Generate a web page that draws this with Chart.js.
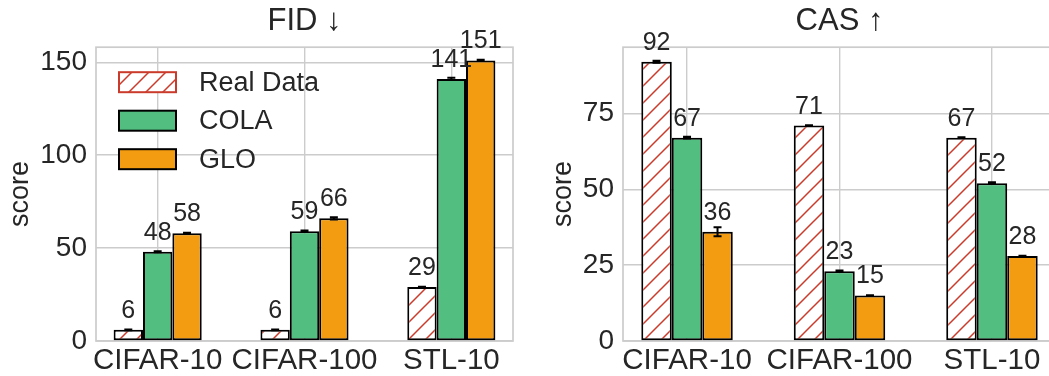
<!DOCTYPE html>
<html>
<head>
<meta charset="utf-8">
<script src="https://cdn.jsdelivr.net/npm/chart.js@4/dist/chart.umd.min.js"></script>
<style>
  html, body { margin: 0; padding: 0; background: #fff; }
  #wrap { position: relative; width: 1049px; height: 376px; overflow: hidden; }
  #c1 { position: absolute; left: 0; top: 0; }
  #c2 { position: absolute; left: 525px; top: 0; }
</style>
</head>
<body>
<div id="wrap">
  <canvas id="c1" width="525" height="376"></canvas>
  <canvas id="c2" width="545" height="376"></canvas>
</div>
<script>
// ---- data ----
const categories = ['CIFAR-10', 'CIFAR-100', 'STL-10'];
const seriesNames = ['Real Data', 'COLA', 'GLO'];

const fidReal = [6, 6, 29];
const fidCola = [48, 59, 141];
const fidGlo  = [58, 66, 151];
const fidRealErr = [0.2, 0.2, 0.2];
const fidColaErr = [0.3, 0.4, 0.6];
const fidGloErr  = [0.3, 0.6, 0.3];

const casReal = [92, 71, 67];
const casCola = [67, 23, 52];
const casGlo  = [36, 15, 28];
const casRealErr = [0.3, 0.1, 0.1];
const casColaErr = [0.3, 0.2, 0.3];
const casGloErr  = [1.5, 0.1, 0.1];

const fidTicks = [0, 50, 100, 150];
const casTicks = [0, 25, 50, 75];

// ---- styling ----
const FONT = "'Liberation Sans', Arial, sans-serif";
const TEXT = '#262626';
const GRID = '#cccccc';
const GREEN = '#52be80';
const ORANGE = '#f39c12';
const RED = '#cb3b2c';

function hatchPattern() {
  const s = 17;
  const c = document.createElement('canvas');
  c.width = s; c.height = s;
  const g = c.getContext('2d');
  g.fillStyle = '#ffffff';
  g.fillRect(0, 0, s, s);
  g.strokeStyle = RED;
  g.lineWidth = 1.5;
  g.beginPath();
  g.moveTo(-2, s + 2); g.lineTo(s + 2, -2);
  g.moveTo(-2, 2); g.lineTo(2, -2);
  g.moveTo(s - 2, s + 2); g.lineTo(s + 2, s - 2);
  g.stroke();
  return g.createPattern(c, 'repeat');
}
const HATCH = hatchPattern();

const toPoints = (arr) => arr.map((v, i) => ({ x: i, y: v }));

function makeDatasets(real, cola, glo, errs) {
  return [
    { label: seriesNames[0], data: toPoints(real), errors: errs[0], backgroundColor: HATCH,
      borderColor: '#000', legendBorder: RED, borderWidth: 2, borderSkipped: false },
    { label: seriesNames[1], data: toPoints(cola), errors: errs[1], backgroundColor: GREEN,
      borderColor: '#000', borderWidth: 2, borderSkipped: false },
    { label: seriesNames[2], data: toPoints(glo), errors: errs[2], backgroundColor: ORANGE,
      borderColor: '#000', borderWidth: 2, borderSkipped: false },
  ];
}

const framePlugin = {
  id: 'frame',
  beforeDatasetsDraw(chart) {
    const { ctx, chartArea: a } = chart;
    ctx.save();
    ctx.strokeStyle = GRID;
    ctx.lineWidth = 1.7;
    ctx.strokeRect(a.left, a.top, a.right - a.left, a.bottom - a.top);
    ctx.restore();
  }
};

const annotatePlugin = {
  id: 'annotate',
  afterDatasetsDraw(chart) {
    const { ctx } = chart;
    const ys = chart.scales.y;
    ctx.save();
    chart.data.datasets.forEach((ds, di) => {
      const meta = chart.getDatasetMeta(di);
      meta.data.forEach((bar, i) => {
        const v = ds.data[i].y;
        const e = ds.errors[i];
        const x = bar.x;
        const y1 = ys.getPixelForValue(v - e);
        const y2 = ys.getPixelForValue(v + e);
        ctx.strokeStyle = '#000';
        ctx.lineWidth = 2;
        ctx.beginPath();
        ctx.moveTo(x, y1); ctx.lineTo(x, y2);
        ctx.moveTo(x - 4, y1); ctx.lineTo(x + 4, y1);
        ctx.moveTo(x - 4, y2); ctx.lineTo(x + 4, y2);
        ctx.stroke();
        ctx.fillStyle = TEXT;
        ctx.font = `25px ${FONT}`;
        ctx.textAlign = 'center';
        ctx.textBaseline = 'alphabetic';
        ctx.fillText(String(Math.round(v)), x, ys.getPixelForValue(v) - 12);
      });
    });
    ctx.restore();
  }
};

const insideLegend = {
  id: 'insideLegend',
  afterDatasetsDraw(chart, args, opts) {
    if (!opts || !opts.display) return;
    const { ctx, chartArea: a } = chart;
    ctx.save();
    chart.data.datasets.forEach((ds, i) => {
      const x = a.left + opts.offsetX;
      const y = a.top + opts.offsetY + i * opts.spacing;
      ctx.fillStyle = ds.backgroundColor;
      ctx.fillRect(x, y, opts.boxWidth, opts.boxHeight);
      ctx.strokeStyle = ds.legendBorder || ds.borderColor;
      ctx.lineWidth = 2;
      ctx.strokeRect(x, y, opts.boxWidth, opts.boxHeight);
      ctx.fillStyle = TEXT;
      ctx.font = `${opts.fontSize}px ${FONT}`;
      ctx.textAlign = 'left';
      ctx.textBaseline = 'middle';
      ctx.fillText(ds.label, x + opts.boxWidth + opts.gap, y + opts.boxHeight / 2 + 1);
    });
    ctx.restore();
  }
};

function makeChart(canvasId, title, datasets, yMax, yTicks, pad, showLegend) {
  return new Chart(document.getElementById(canvasId), {
    type: 'bar',
    data: { datasets },
    plugins: [framePlugin, annotatePlugin, insideLegend],
    options: {
      responsive: false,
      animation: false,
      devicePixelRatio: 1,
      layout: { padding: { left: pad.left, right: pad.right, top: 0, bottom: 0 } },
      datasets: { bar: { categoryPercentage: 0.6, barPercentage: 1.0 } },
      plugins: {
        legend: { display: false },
        tooltip: { enabled: false },
        title: {
          display: true, text: title, color: TEXT, fullSize: false,
          font: { family: FONT, size: 31, weight: 'normal', lineHeight: 1.2 },
          padding: { top: 3, bottom: 7 }
        },
        insideLegend: {
          display: showLegend, offsetX: 23, offsetY: 25, spacing: 38.5,
          boxWidth: 57, boxHeight: 20, gap: 23, fontSize: 27
        }
      },
      scales: {
        x: {
          type: 'linear', min: -0.42, max: 2.42, offset: false,
          afterBuildTicks: (s) => { s.ticks = categories.map((_, i) => ({ value: i })); },
          afterFit: (s) => { s.height = 35; },
          ticks: {
            callback: (v) => categories[v] ?? '',
            color: TEXT, font: { family: FONT, size: 29.5 }, padding: 2,
            autoSkip: false, maxRotation: 0, minRotation: 0
          },
          grid: { color: GRID, lineWidth: 1.4, drawTicks: false, offset: false },
          border: { display: false }
        },
        y: {
          min: 0, max: yMax,
          afterBuildTicks: (s) => { s.ticks = yTicks.map((v) => ({ value: v })); },
          afterFit: (s) => { s.width = pad.axisWidth; },
          ticks: { color: TEXT, font: { family: FONT, size: 28 }, padding: 9 },
          grid: { color: GRID, lineWidth: 1.4, drawTicks: false },
          border: { display: false },
          title: {
            display: true, text: 'score', color: TEXT,
            font: { family: FONT, size: 27, lineHeight: 1.2 }, padding: { top: 0, bottom: 0 }
          }
        }
      }
    }
  });
}

makeChart('c1', 'FID ↓',
  makeDatasets(fidReal, fidCola, fidGlo, [fidRealErr, fidColaErr, fidGloErr]),
  158.1, fidTicks, { left: 4, right: 12, axisWidth: 92 }, true);

makeChart('c2', 'CAS ↑',
  makeDatasets(casReal, casCola, casGlo, [casRealErr, casColaErr, casGloErr]),
  96.8, casTicks, { left: 22, right: 14, axisWidth: 76 }, false);
</script>
</body>
</html>
